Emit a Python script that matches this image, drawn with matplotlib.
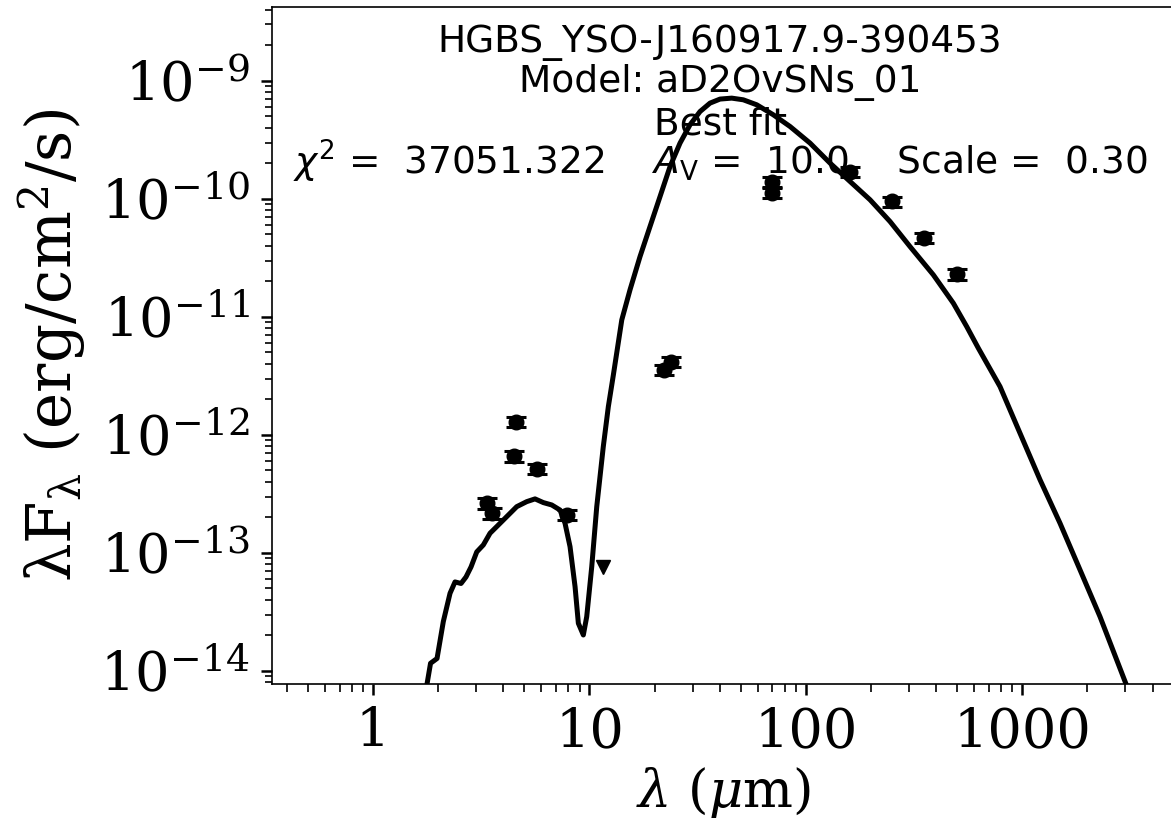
import matplotlib
matplotlib.use("Agg")
import matplotlib.pyplot as plt
from matplotlib import ticker

# Best-fit SED model (wavelength in micron, lambda*F_lambda in erg/cm^2/s)
model_wav = [1.75, 1.844, 1.976, 2.113, 2.269, 2.393, 2.551, 2.690, 2.837, 3.015,
             3.234, 3.473, 3.729, 4.148, 4.615, 5.132, 5.606, 6.124, 6.696, 7.313,
             7.713, 8.135, 8.582, 8.888, 9.372, 9.716, 10.25, 10.81, 11.59, 12.23,
             12.90, 14.11, 15.40, 17.13, 19.05, 21.20, 23.58, 26.22, 29.16, 32.44,
             36.08, 40.13, 45.46, 51.42, 59.32, 70.76, 84.53, 104.6, 129.4, 160.1,
             198.1, 245.0, 303.0, 388.3, 480.4, 554.0, 626.9, 789.6, 976.8, 1209,
             1495, 1850, 2288, 3017, 3251]
model_flux = [6.6e-15, 1.162e-14, 1.276e-14, 2.627e-14, 4.55e-14, 5.68e-14, 5.51e-14,
              6.26e-14, 7.61e-14, 1.02e-13, 1.169e-13, 1.469e-13, 1.671e-13, 2.03e-13,
              2.467e-13, 2.72e-13, 2.87e-13, 2.67e-13, 2.55e-13, 2.31e-13, 1.785e-13,
              1.131e-13, 5.18e-14, 2.536e-14, 2.018e-14, 2.884e-14, 7.65e-14, 2.467e-13,
              7.96e-13, 1.738e-12, 3.22e-12, 9.43e-12, 1.694e-11, 3.24e-11, 5.82e-11,
              1.046e-10, 1.878e-10, 2.965e-10, 4.24e-10, 5.49e-10, 6.47e-10, 7.00e-10,
              7.13e-10, 6.90e-10, 6.26e-10, 5.15e-10, 4.10e-10, 2.965e-10, 2.007e-10,
              1.402e-10, 9.81e-11, 6.42e-11, 3.94e-11, 2.27e-11, 1.306e-11, 8.27e-12,
              5.43e-12, 2.566e-12, 1.033e-12, 4.16e-13, 1.785e-13, 7.18e-14, 2.884e-14,
              7.76e-15, 5.68e-15]

# Photometric detections
phot_wav = [3.35, 3.55, 4.49, 4.6, 5.73, 7.87, 22.1, 23.7, 70.0, 70.0, 160.0, 250.0, 350.0, 500.0]
phot_flux = [2.64e-13, 2.17e-13, 6.6e-13, 1.29e-12, 5.15e-13, 2.1e-13, 3.56e-12, 4.18e-12,
             1.40e-10, 1.12e-10, 1.70e-10, 9.5e-11, 4.65e-11, 2.30e-11]
phot_err = [0.1 * f for f in phot_flux]

# Upper limit
lim_wav = [11.6]
lim_flux = [7.65e-14]

x_ticks = [1, 10, 100, 1000]

source_name = "HGBS_YSO-J160917.9-390453"
model_name = "aD2OvSNs_01"
chi2 = 37051.322
av = 10.0
scale = 0.30

plt.rcParams["font.family"] = "DejaVu Serif"
plt.rcParams["mathtext.fontset"] = "dejavuserif"

fig = plt.figure(figsize=(11.71, 8.21), dpi=100)
ax = fig.add_axes([0.2323, 0.1669, 0.7711, 0.8246])

ax.plot(model_wav, model_flux, color="black", lw=3.6, zorder=2)
ax.errorbar(phot_wav, phot_flux, yerr=phot_err, fmt="o", color="black", ms=10.5,
            capsize=7, capthick=2.2, elinewidth=2.2, zorder=3)
ax.plot(lim_wav, lim_flux, "v", color="black", ms=10.5, zorder=3)

ax.set_xscale("log")
ax.set_yscale("log")
ax.set_xlim(0.3414, 5080)
ax.set_ylim(7.76e-15, 4.22e-9)

ax.xaxis.set_major_locator(ticker.FixedLocator(x_ticks))
ax.xaxis.set_major_formatter(ticker.FuncFormatter(lambda v, _: f"{v:g}"))
ax.xaxis.set_minor_locator(ticker.LogLocator(base=10, subs=range(2, 10), numticks=20))
ax.xaxis.set_minor_formatter(ticker.NullFormatter())

ax.tick_params(which="major", length=8, width=1.8, labelsize=39, pad=8)
ax.tick_params(which="minor", length=5.4, width=1.2)
for s in ax.spines.values():
    s.set_linewidth(1.2)

ax.set_xlabel(r"$\lambda$ ($\mu$m)", fontsize=38, labelpad=5)
ax.set_ylabel(r"$\mathrm{\lambda F_{\lambda}}$ (erg/cm$^2$/s)", fontsize=44, labelpad=9)

kw = dict(transform=fig.transFigure, ha="center", va="baseline", fontsize=27,
          family="DejaVu Sans", math_fontfamily="dejavusans")
cx = 0.6149
fig.text(cx, 1 - 52 / 821, source_name, **kw)
fig.text(cx, 1 - 92 / 821, "Model: " + model_name, **kw)
fig.text(cx, 1 - 134 / 821, "Best fit", **kw)
fig.text(cx, 1 - 175 / 821,
         r"$\chi^2$ =  %.3f    $A_\mathrm{V}$ =  %.1f    Scale =  %.2f" % (chi2, av, scale),
         **kw)

fig.savefig("out.png", dpi=100)
